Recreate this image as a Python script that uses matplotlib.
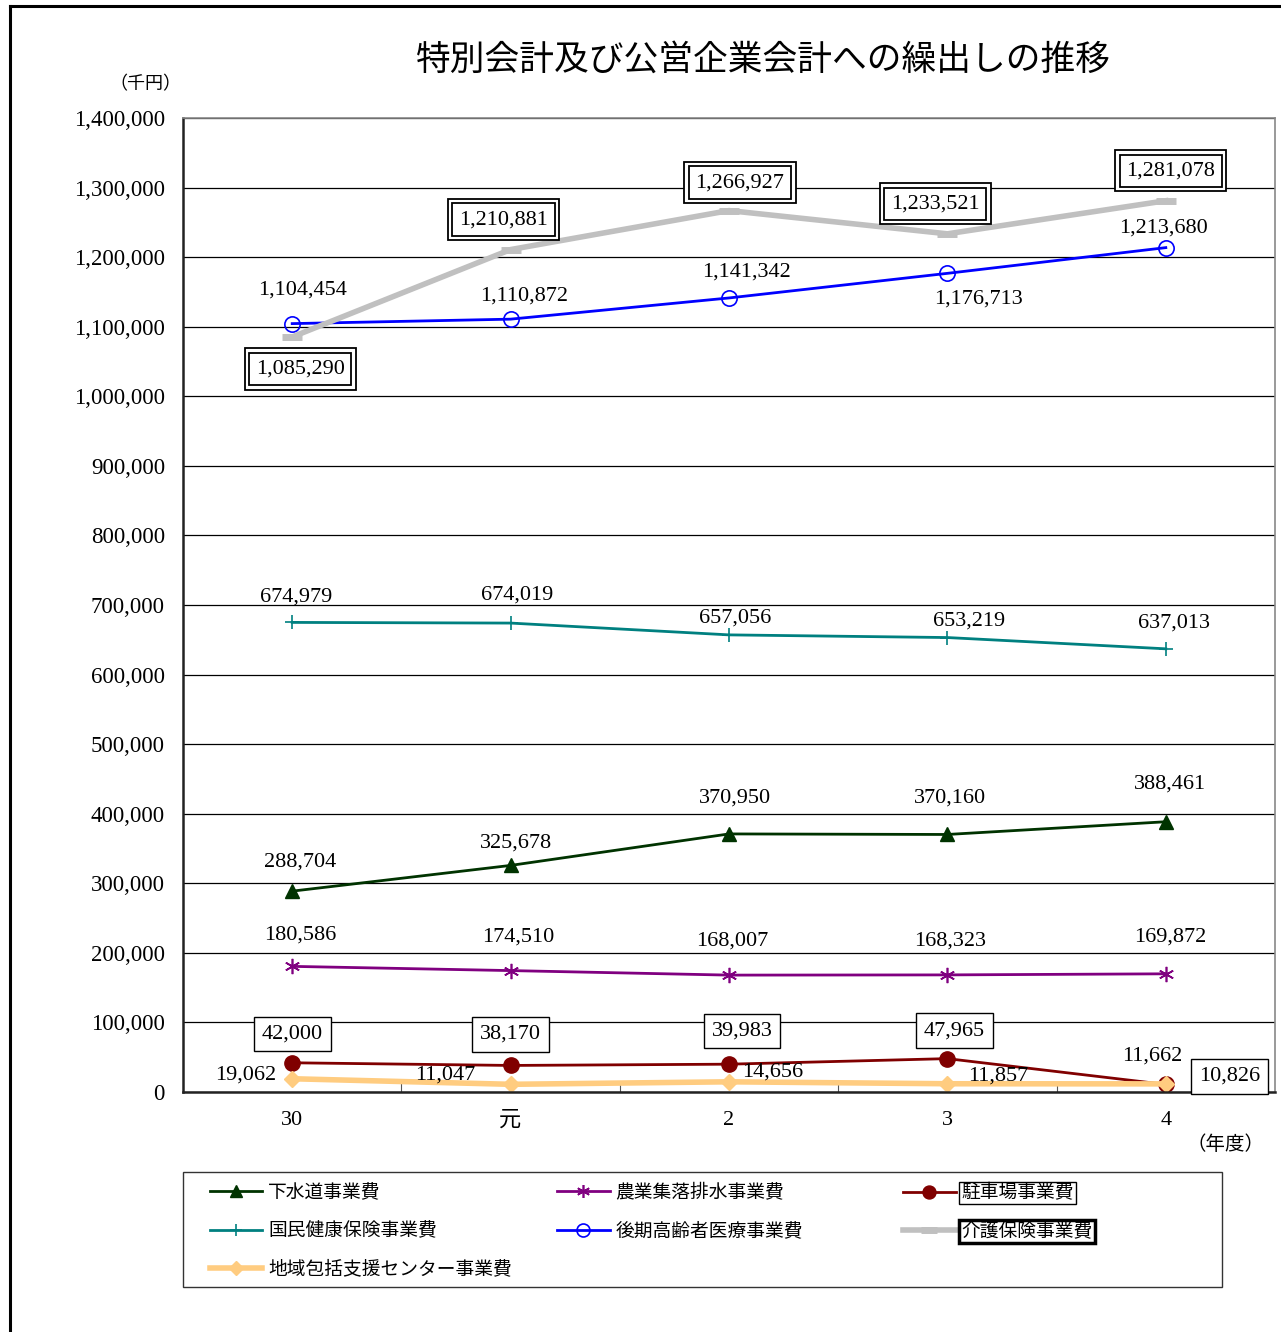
import matplotlib
matplotlib.use("Agg")
import matplotlib.pyplot as plt
from matplotlib.lines import Line2D
from matplotlib.patches import Rectangle

plt.rcParams['font.family'] = ['Liberation Serif', 'Noto Sans CJK JP']

# == data (千円) == #
years = ["30", "元", "2", "3", "4"]
gesuido = [288704, 325678, 370950, 370160, 388461]
nogyo = [180586, 174510, 168007, 168323, 169872]
chusha = [42000, 38170, 39983, 47965, 10826]
kokuho = [674979, 674019, 657056, 653219, 637013]
koki = [1104454, 1110872, 1141342, 1176713, 1213680]
kaigo = [1085290, 1210881, 1266927, 1233521, 1281078]
chiiki = [19062, 11047, 14656, 11857, 11662]

# label offsets in pixels (dx, dy)
off_gesuido = [(8, 29), (5, 22), (6, 36), (3, 36), (4, 38)]
off_nogyo = [(8, 31), (8, 34), (3, 34), (3, 34), (4, 37)]
off_chusha = [(0, 29), (0, 31), (13, 33), (7, 28), (64, 8)]
off_kokuho = [(4, 25), (7, 28), (6, 17), (22, 16), (8, 26)]
off_koki = [(10, 34), (14, 23), (17, 26), (31, -26), (-2, 20)]
off_kaigo = [(8, -32), (-7, 30), (11, 28), (-12, 30), (5, 30)]
off_chiiki = [(-47, 4), (-65, 9), (44, 10), (51, 8), (-14, 28)]

W, H = 1281, 1332
fig = plt.figure(figsize=(W / 100, H / 100), dpi=100)
ax = fig.add_axes([183 / W, 1 - 1092 / H, (1275 - 183) / W, (1092 - 118) / H])

x = [i + 0.5 for i in range(len(years))]

series = [
    ("下水道事業費", gesuido, dict(color="#003300", lw=2, marker="^", ms=10), off_gesuido),
    ("国民健康保険事業費", kokuho, dict(color="#008080", lw=2, marker="+", ms=10, mew=1.2), off_kokuho),
    ("農業集落排水事業費", nogyo, dict(color="#800080", lw=2, marker=(6, 2, 0), ms=11, mew=1.2), off_nogyo),
    ("後期高齢者医療事業費", koki, dict(color="#0000FF", lw=2, marker="o", ms=11, mfc="none", mew=1.2), off_koki),
    ("駐車場事業費", chusha, dict(color="#800000", lw=2, marker="o", ms=11), off_chusha),
    ("介護保険事業費", kaigo, dict(color="#C0C0C0", lw=4, marker="_", ms=14, mew=5), off_kaigo),
    ("地域包括支援センター事業費", chiiki, dict(color="#FFCC80", lw=4, marker="D", ms=8), off_chiiki),
]

handles = {}
for name, vals, style, offs in series:
    handles[name], = ax.plot(x, vals, label=name, **style)

for name, vals, style, offs in series:
    for xi, v, (dx, dy) in zip(x, vals, offs):
        txt = f"{v:,}"
        kw = dict(xy=(xi, v), xytext=(dx, dy), textcoords="offset pixels",
                  ha="center", va="center", fontsize=16, zorder=6)
        if name == "駐車場事業費":
            ax.annotate(txt, bbox=dict(boxstyle="square,pad=0.35", fc="white", ec="black", lw=1), **kw)
        elif name == "介護保険事業費":
            ax.annotate(txt, bbox=dict(boxstyle="square,pad=0.5", fc="white", ec="black", lw=1.3), **kw)
            ax.annotate(txt, bbox=dict(boxstyle="square,pad=0.3", fc="white", ec="black", lw=1.3), **kw)
        else:
            ax.annotate(txt, **kw)

ax.set_xlim(0, 5)
ax.set_ylim(0, 1400000)
ax.set_yticks(range(0, 1400001, 100000))
ax.set_yticklabels([f"{t:,}" for t in range(0, 1400001, 100000)], fontsize=16.5)
ax.yaxis.grid(True, color="black", lw=0.9)
ax.set_axisbelow(True)
ax.tick_params(axis="y", length=0, pad=13)

ax.set_xticks([1, 2, 3, 4])
ax.set_xticklabels([])
ax.set_xticks(x, minor=True)
ax.set_xticklabels(years, minor=True, fontsize=16)
ax.tick_params(axis="x", which="major", direction="in", length=7, color="#555555")
ax.tick_params(axis="x", which="minor", length=0, pad=14)

for s in ["left", "bottom"]:
    ax.spines[s].set_color("#222222")
    ax.spines[s].set_linewidth(1.8)
for s in ["top", "right"]:
    ax.spines[s].set_color("#888888")
    ax.spines[s].set_linewidth(1.2)

fig.text(763 / W, 1 - 61 / H, "特別会計及び公営企業会計への繰出しの推移",
         ha="center", va="center", fontsize=25)
fig.text(145 / W, 1 - 85 / H, "（千円）", ha="center", va="center", fontsize=13)
fig.text(1225 / W, 1 - 1145 / H, "（年度）", ha="center", va="center", fontsize=14)

# legend: frame + three columns
fig.add_artist(Rectangle((183 / W, 1 - 1287 / H), (1222 - 183) / W, (1287 - 1172) / H,
                         fill=False, ec="#333333", lw=1, transform=fig.transFigure))
columns = [
    (210, ["下水道事業費", "国民健康保険事業費", "地域包括支援センター事業費"]),
    (557, ["農業集落排水事業費", "後期高齢者医療事業費"]),
    (903, ["駐車場事業費", "介護保険事業費"]),
]
for xpos, names in columns:
    leg = fig.legend([handles[n] for n in names], names, loc="upper left",
                     bbox_to_anchor=(xpos / W, 1 - 1184 / H), fontsize=13.5, frameon=False,
                     borderaxespad=0, borderpad=0, handlelength=2.8, handletextpad=0.3,
                     labelspacing=1.1, markerscale=0.85)
    for t in leg.get_texts():
        if t.get_text() == "駐車場事業費":
            t.set_bbox(dict(boxstyle="square,pad=0.12", fc="white", ec="black", lw=1))
        if t.get_text() == "介護保険事業費":
            t.set_bbox(dict(boxstyle="square,pad=0.12", fc="white", ec="black", lw=2.5))

# outer frame
fig.add_artist(Line2D([10 / W, 10 / W], [0, 1 - 6 / H], color="black", lw=2.2, transform=fig.transFigure))
fig.add_artist(Line2D([10 / W, 1], [1 - 6 / H, 1 - 6 / H], color="black", lw=2.2, transform=fig.transFigure))

fig.savefig("out.png", dpi=100, facecolor="white")
